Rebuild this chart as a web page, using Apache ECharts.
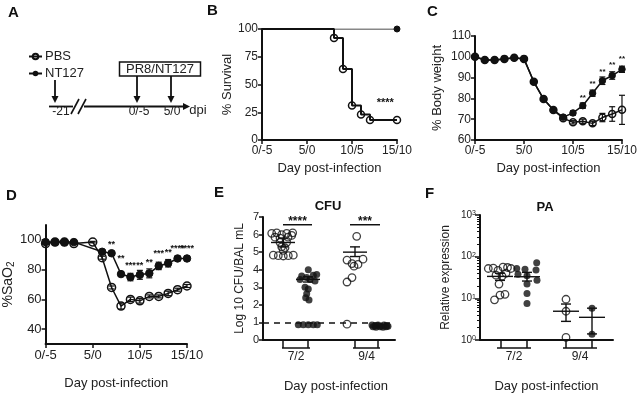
<!DOCTYPE html>
<html><head><meta charset="utf-8">
<script src="https://cdn.jsdelivr.net/npm/echarts@6/dist/echarts.min.js"></script>
<style>html,body{margin:0;padding:0;background:#fff}#c{width:640px;height:394px}</style>
</head><body><div id="c"></div>
<script>
// ---------------- data ----------------
const dayTicks = [0, 5, 10, 15];
const dayLabels = ['0/-5', '5/0', '10/5', '15/10'];

// B: survival
const survDaysPBS = [0, 8, 9, 10, 11, 12, 15];
const survPBS = [100, 92, 64, 31, 23, 18, 18];
const survDaysNT = [0, 15];
const survNT = [100, 100];
const survStarX = [13.7];
const survStarY = [33];
const survStars = ['****'];

// C: body weight
const bwDays = [0, 1, 2, 3, 4, 5, 6, 7, 8, 9, 10, 11, 12, 13, 14, 15];
const bwNT = [100, 98.5, 98.5, 99, 99.5, 99, 88, 79.7, 74.4, 71, 73, 76.5, 82.5, 88.5, 91, 94];
const bwNTErr = [0.3, 0.3, 0.3, 0.3, 0.3, 0.3, 0.5, 0.6, 0.6, 0.8, 1, 1.3, 1.5, 1.8, 1.8, 1.5];
const bwPBS = [100, 98.5, 98.5, 99, 99.5, 99, 88, 79.7, 74.4, 70.5, 68.5, 69, 68, 70.8, 72.5, 74.5];
const bwPBSErr = [0.3, 0.3, 0.3, 0.3, 0.3, 0.3, 0.5, 0.6, 0.6, 0.8, 0.8, 1, 1, 2, 3.5, 7];
const bwStarDays = [11, 12, 13, 14, 15];
const bwStarY = [80.5, 87, 93, 96, 99];
const bwStars = ['**', '**', '**', '**', '**'];

// D: SaO2
const satDaysNT = [0, 1, 2, 3, 6, 7, 8, 9, 10, 11, 12, 13, 14, 15];
const satNT = [98.5, 98.5, 98.5, 98.5, 92, 91, 77, 75, 76.5, 77.5, 82.5, 84.3, 87.5, 87.5];
const satNTErr = [0.5, 0.5, 0.5, 0.5, 1, 1, 1.5, 2.5, 3, 3, 2.5, 2.5, 1.5, 1.5];
const satDaysPBS = [0, 1, 2, 3, 5, 6, 7, 8, 9, 10, 11, 12, 13, 14, 15];
const satPBS = [97.5, 98.5, 98.5, 97.5, 98.5, 88, 68, 55.5, 60, 59, 62, 62, 64, 66.5, 69];
const satPBSErr = [0.5, 0.5, 0.5, 0.5, 0.5, 1, 1, 2, 1.5, 1.5, 1, 1, 1.5, 1, 1];
const satStarDays = [7, 8, 9, 10, 11, 12, 13, 14, 15];
const satStarY = [96.8, 87.8, 82.8, 82.8, 85, 90.7, 91.2, 94, 94];
const satStars = ['**', '**', '***', '**', '**', '***', '**', '****', '****'];

// E: CFU (x = position along axis, y = log10 CFU)
const groupLabels = ['7/2', '9/4'];
const cfuGroupX = [20, 45, 92, 115];
const cfuGroupSpan = [[19, 47], [90, 117]];
const cfu72PBS = [[8.7,6.07],[13.7,6.1],[18.7,6.0],[23.7,6.07],[29.7,6.1],[12,5.85],[17,5.8],[25,5.85],[28.7,5.95],[17,5.56],[23.7,5.56],[18.7,5.3],[22,5.25],[20.3,5.1],[10.3,4.83],[15.3,4.8],[20.3,4.78],[25.3,4.8],[30.3,4.83]];
const cfu72NT = [[45.3,4.0],[38.7,3.64],[43.7,3.55],[50.3,3.68],[53.7,3.73],[37,3.45],[47,3.45],[52,3.36],[42,3.0],[45.3,2.9],[43.7,2.63],[42.7,2.4],[46,2.28],[35.3,0.87],[40.3,0.87],[45.3,0.87],[50.3,0.87],[54.3,0.87]];
const cfu94PBS = [[93.7,5.9],[84,4.55],[89,4.35],[95,4.3],[100,4.6],[91,4.2],[89,3.55],[84,3.3],[84,0.9]];
const cfu94NT = [[109,0.85],[112,0.8],[115,0.85],[118,0.8],[121,0.85],[124,0.8],[110,0.75],[113,0.72],[117,0.75],[120,0.72],[123,0.75],[125,0.78]];
const cfuMean = [[20,5.55,5.3,5.8],[45,3.45,3.3,3.6],[92,5.0,4.75,5.3]];
const cfuLOD = 1;
const cfuSig = [[20,49,6.56],[87,117,6.56]];
const cfuSigText = ['****', '***'];

// F: PA relative expression
const paGroupX = [21, 47, 86, 112];
const paGroupSpan = [[17, 51], [83, 117]];
const pa72PBS = [[8.3,52],[13.3,53],[18,47],[23,56],[27.5,55],[31,52],[16,36],[22,34],[19,22],[20,12],[25,12.5],[14.5,9.2],[26,40]];
const pa72NT = [[36.7,52],[45,50],[56.7,71],[56,48],[47,35],[57,27],[38,38],[47,22],[47,13],[47,7.5]];
const pa94PBS = [[86,9.5],[86,4.9],[86,1.15]];
const pa94NT = [[112,5.8],[112,1.37]];
const paMean = [[20,33.6,27,40],[47,33,26,42],[86,4.9,2.8,7.3],[112,3.5,1.4,5.8]];
const paMajor = [1, 10, 100, 1000];
const paMinor = [2,3,4,5,6,7,8,9,20,30,40,50,60,70,80,90,200,300,400,500,600,700,800,900];

// ---------------- helpers ----------------
const FONT = "'Liberation Sans', Arial, Helvetica, sans-serif";
const INK = '#111';
const TXT = '#222';
const OPEN = 'rgba(255,255,255,0)';

function zip(xs, ys) { return xs.map((x, i) => [x, ys[i]]); }
function errData(xs, ys, es) { return xs.map((x, i) => [x, ys[i] - es[i], ys[i] + es[i]]); }

function dayAxis(gi, gap, fs) {
  return {
    type: 'value', gridIndex: gi, min: 0, max: 15, interval: 5,
    name: 'Day post-infection', nameLocation: 'middle', nameGap: gap,
    nameTextStyle: { fontSize: 13, color: TXT, fontFamily: FONT },
    axisLine: { lineStyle: { color: INK, width: 2 } },
    axisTick: { length: 4, lineStyle: { color: INK, width: 1.5 } },
    axisLabel: { fontSize: fs, color: TXT, fontFamily: FONT, margin: 5,
      formatter: v => { const k = dayTicks.indexOf(v); return k >= 0 ? dayLabels[k] : ''; } },
    splitLine: { show: false }
  };
}
function valAxis(gi, o) {
  return Object.assign({
    type: 'value', gridIndex: gi, nameLocation: 'middle',
    nameTextStyle: { fontSize: 13, color: TXT, fontFamily: FONT },
    axisLine: { show: true, lineStyle: { color: INK, width: 2 } },
    axisTick: { show: true, length: 4, lineStyle: { color: INK, width: 1.5 } },
    axisLabel: { fontSize: 12, color: TXT, fontFamily: FONT, margin: 4 },
    splitLine: { show: false }
  }, o);
}

function errSeries(xi, data, cap) {
  return {
    type: 'custom', xAxisIndex: xi, yAxisIndex: xi, data: data, z: 1, silent: true,
    encode: { x: 0, y: [1, 2] },
    renderItem: (p, api) => {
      const x = api.value(0);
      const a = api.coord([x, api.value(1)]), b = api.coord([x, api.value(2)]);
      const st = { stroke: INK, lineWidth: 1.2 };
      return { type: 'group', children: [
        { type: 'line', shape: { x1: a[0], y1: a[1], x2: b[0], y2: b[1] }, style: st },
        { type: 'line', shape: { x1: a[0] - cap, y1: a[1], x2: a[0] + cap, y2: a[1] }, style: st },
        { type: 'line', shape: { x1: b[0] - cap, y1: b[1], x2: b[0] + cap, y2: b[1] }, style: st }
      ]};
    }
  };
}
function textSeries(xi, yi, xs, ys, texts, fs) {
  return {
    type: 'custom', xAxisIndex: xi, yAxisIndex: yi, data: zip(xs, ys), z: 5, silent: true,
    encode: { x: 0, y: 1 },
    renderItem: (p, api) => {
      const c = api.coord([api.value(0), api.value(1)]);
      return { type: 'text', x: c[0], y: c[1], style: { text: texts[p.dataIndex], fill: INK,
        fontSize: fs, fontFamily: FONT, fontWeight: 'bold', align: 'center', verticalAlign: 'middle' } };
    }
  };
}
function meanSeries(xi, yi, data, half, cap) {
  return {
    type: 'custom', xAxisIndex: xi, yAxisIndex: yi, data: data, z: 4, silent: true,
    encode: { x: 0, y: [1, 2, 3] },
    renderItem: (p, api) => {
      const x = api.value(0);
      const m = api.coord([x, api.value(1)]), a = api.coord([x, api.value(2)]), b = api.coord([x, api.value(3)]);
      const st = { stroke: INK, lineWidth: 1.4 };
      return { type: 'group', children: [
        { type: 'line', shape: { x1: m[0] - half, y1: m[1], x2: m[0] + half, y2: m[1] }, style: st },
        { type: 'line', shape: { x1: a[0], y1: a[1], x2: b[0], y2: b[1] }, style: st },
        { type: 'line', shape: { x1: a[0] - cap, y1: a[1], x2: a[0] + cap, y2: a[1] }, style: st },
        { type: 'line', shape: { x1: b[0] - cap, y1: b[1], x2: b[0] + cap, y2: b[1] }, style: st }
      ]};
    }
  };
}
function sigSeries(xi, yi, data, texts) {
  return {
    type: 'custom', xAxisIndex: xi, yAxisIndex: yi, data: data, z: 5, silent: true,
    encode: { x: [0, 1], y: 2 },
    renderItem: (p, api) => {
      const a = api.coord([api.value(0), api.value(2)]), b = api.coord([api.value(1), api.value(2)]);
      return { type: 'group', children: [
        { type: 'line', shape: { x1: a[0], y1: a[1], x2: b[0], y2: b[1] }, style: { stroke: INK, lineWidth: 1.5 } },
        { type: 'text', x: (a[0] + b[0]) / 2, y: a[1] + 3, style: { text: texts[p.dataIndex], fill: INK,
          fontSize: 12, fontFamily: FONT, fontWeight: 'bold', align: 'center', verticalAlign: 'bottom' } }
      ]};
    }
  };
}
function bracketSeries(xi, yi, spans, ybase) {
  return {
    type: 'custom', xAxisIndex: xi, yAxisIndex: yi, data: spans.map(s => [s[0], s[1], ybase]), z: 5, silent: true,
    encode: { x: [0, 1], y: 2 },
    renderItem: (p, api) => {
      const a = api.coord([api.value(0), api.value(2)]), b = api.coord([api.value(1), api.value(2)]);
      return { type: 'line', shape: { x1: a[0], y1: a[1] + 8, x2: b[0], y2: b[1] + 8 }, style: { stroke: INK, lineWidth: 1.5 } };
    }
  };
}
function groupAxis(gi, max, ticks, spans, gap) {
  const mids = spans.map(s => (s[0] + s[1]) / 2);
  return {
    type: 'value', gridIndex: gi, min: 0, max: max,
    name: 'Day post-infection', nameLocation: 'middle', nameGap: gap,
    nameTextStyle: { fontSize: 13, color: TXT, fontFamily: FONT },
    axisLine: { lineStyle: { color: INK, width: 2 } },
    axisTick: { customValues: ticks, length: 8, lineStyle: { color: INK, width: 1.5 } },
    axisLabel: { customValues: mids, fontSize: 12, color: TXT, fontFamily: FONT, margin: 11,
      formatter: v => { let k = 0, d = 1e9; mids.forEach((m, i) => { if (Math.abs(m - v) < d) { d = Math.abs(m - v); k = i; } }); return groupLabels[k]; } },
    splitLine: { show: false }
  };
}

// ---------------- option ----------------
const letter = (t, l, tp) => ({ text: t, left: l, top: tp, padding: 0,
  textStyle: { fontSize: 15, fontWeight: 'bold', color: INK, fontFamily: FONT } });

const option = {
  animation: false,
  backgroundColor: '#fff',
  textStyle: { fontFamily: FONT },
  title: [
    letter('A', 8, 5), letter('B', 207, 3), letter('C', 427, 4),
    letter('D', 6, 188), letter('E', 214, 185), letter('F', 425, 186),
    { text: 'CFU', left: 328, top: 200, padding: 0, textAlign: 'center', textStyle: { fontSize: 13, fontWeight: 'bold', color: INK, fontFamily: FONT } },
    { text: 'PA', left: 545, top: 201, padding: 0, textAlign: 'center', textStyle: { fontSize: 13, fontWeight: 'bold', color: INK, fontFamily: FONT } }
  ],
  legend: {
    data: ['PBS', 'NT127'], orient: 'vertical', left: 23, top: 45, itemWidth: 13, itemHeight: 7,
    itemGap: 4, selectedMode: false, textStyle: { fontSize: 13, color: TXT, fontFamily: FONT, padding: [0, 0, 0, -2] }
  },
  grid: [
    { left: 262, top: 29, width: 135, height: 111 },
    { left: 475, top: 36, width: 148, height: 104 },
    { left: 43, top: 225, width: 144, height: 119 },
    { left: 263, top: 217, width: 132, height: 128 },
    { left: 480, top: 215, width: 133, height: 131 }
  ],
  xAxis: [
    dayAxis(0, 22, 12),
    dayAxis(1, 22, 12),
    dayAxis(2, 33, 13),
    Object.assign(groupAxis(3, 132, cfuGroupX, cfuGroupSpan, 40), { nameTextStyle: { fontSize: 13, color: TXT, fontFamily: FONT, padding: [0, 0, 0, 14] } }),
    groupAxis(4, 133, paGroupX, paGroupSpan, 40)
  ],
  yAxis: [
    valAxis(0, { min: 0, max: 100, interval: 25, name: '% Survival', nameGap: 23 }),
    valAxis(1, { min: 60, max: 110, interval: 10, name: '% Body weight', nameGap: 31 }),
    valAxis(2, { min: 30, max: 110, name: '%SaO{sub|2}', nameGap: 27,
      nameTextStyle: { fontSize: 14, color: TXT, fontFamily: FONT, rich: { sub: { fontSize: 10, verticalAlign: 'bottom', padding: [6, 0, 0, 0] } } },
      axisTick: { customValues: [40, 60, 80, 100], length: 4, lineStyle: { color: INK, width: 1.5 } },
      axisLabel: { customValues: [40, 60, 80, 100], fontSize: 13, color: TXT, fontFamily: FONT, margin: 4 } }),
    valAxis(3, { min: 0, max: 7, interval: 1, name: 'Log 10 CFU/BAL mL', nameGap: 17,
      nameTextStyle: { fontSize: 12, color: TXT, fontFamily: FONT },
      axisLabel: { fontSize: 11, color: TXT, fontFamily: FONT, margin: 4 } }),
    valAxis(4, { type: 'log', logBase: 10, min: 1, max: 1000, name: 'Relative expression', nameGap: 28,
      nameTextStyle: { fontSize: 12, color: TXT, fontFamily: FONT },
      axisTick: { customValues: paMajor, length: 5, lineStyle: { color: INK, width: 1.5 } },
      axisLabel: { customValues: paMajor, margin: 4, color: TXT, fontFamily: FONT,
        formatter: v => '{b|10}{s|' + Math.round(Math.log10(v)) + '}',
        rich: { b: { fontSize: 10, color: TXT, fontFamily: FONT }, s: { fontSize: 7, color: TXT, fontFamily: FONT, verticalAlign: 'top' } } } }),
    { type: 'log', logBase: 10, gridIndex: 4, min: 1, max: 1000, position: 'left',
      axisLine: { show: false }, axisLabel: { show: false }, splitLine: { show: false },
      axisTick: { show: true, customValues: paMinor, length: 3, lineStyle: { color: INK, width: 1 } } }
  ],
  series: [
    // B
    { type: 'line', name: 'PBS', xAxisIndex: 0, yAxisIndex: 0, step: 'end', showAllSymbol: true,
      data: zip(survDaysPBS, survPBS).map((d, i) => i === 0 ? { value: d, symbol: 'none' } : d),
      symbol: 'circle', symbolSize: 7, itemStyle: { color: OPEN, borderColor: INK, borderWidth: 1.5 },
      lineStyle: { color: INK, width: 2 }, z: 3 },
    { type: 'line', name: 'NT127', xAxisIndex: 0, yAxisIndex: 0, showAllSymbol: true,
      data: zip(survDaysNT, survNT).map((d, i) => i === 0 ? { value: d, symbol: 'none' } : d),
      symbol: 'circle', symbolSize: 6, itemStyle: { color: INK, borderColor: INK },
      lineStyle: { color: INK, width: 1.2 }, z: 3 },
    textSeries(0, 0, survStarX, survStarY, survStars, 11),
    // C
    errSeries(1, errData(bwDays, bwPBS, bwPBSErr), 3),
    errSeries(1, errData(bwDays, bwNT, bwNTErr), 3),
    { type: 'line', name: 'PBS', xAxisIndex: 1, yAxisIndex: 1, data: zip(bwDays, bwPBS), showAllSymbol: true,
      symbol: 'circle', symbolSize: 7, itemStyle: { color: OPEN, borderColor: INK, borderWidth: 1.5 },
      lineStyle: { color: INK, width: 1.5 }, z: 3 },
    { type: 'line', name: 'NT127', xAxisIndex: 1, yAxisIndex: 1, data: zip(bwDays, bwNT), showAllSymbol: true,
      symbol: 'circle', symbolSize: 6.5, itemStyle: { color: INK, borderColor: INK },
      lineStyle: { color: INK, width: 1.5 }, z: 4 },
    textSeries(1, 1, bwStarDays, bwStarY, bwStars, 8),
    // D
    errSeries(2, errData(satDaysPBS, satPBS, satPBSErr), 3),
    errSeries(2, errData(satDaysNT, satNT, satNTErr), 3),
    { type: 'line', name: 'PBS', xAxisIndex: 2, yAxisIndex: 2, data: zip(satDaysPBS, satPBS), showAllSymbol: true,
      symbol: 'circle', symbolSize: 8, itemStyle: { color: OPEN, borderColor: INK, borderWidth: 1.5 },
      lineStyle: { color: INK, width: 1.5 }, z: 3 },
    { type: 'line', name: 'NT127', xAxisIndex: 2, yAxisIndex: 2, data: zip(satDaysNT, satNT), showAllSymbol: true,
      symbol: 'circle', symbolSize: 7.5, itemStyle: { color: INK, borderColor: INK },
      lineStyle: { color: INK, width: 1.5 }, z: 4 },
    textSeries(2, 2, satStarDays, satStarY, satStars, 9),
    // E
    { type: 'scatter', name: 'PBS', xAxisIndex: 3, yAxisIndex: 3, data: cfu72PBS.concat(cfu94PBS),
      symbol: 'circle', symbolSize: 7.5, itemStyle: { color: OPEN, borderColor: INK, borderWidth: 1.3 }, z: 3,
      markLine: { silent: true, symbol: ['none', 'none'], label: { show: false },
        lineStyle: { color: INK, width: 1.5, type: [6, 5] }, data: [{ yAxis: cfuLOD }] } },
    { type: 'scatter', name: 'NT127', xAxisIndex: 3, yAxisIndex: 3, data: cfu72NT.concat(cfu94NT),
      symbol: 'circle', symbolSize: 7, itemStyle: { color: INK }, z: 3 },
    meanSeries(3, 3, cfuMean, 12, 5),
    sigSeries(3, 3, cfuSig, cfuSigText),
    bracketSeries(3, 3, cfuGroupSpan, 0),
    // F
    { type: 'scatter', name: 'PBS', xAxisIndex: 4, yAxisIndex: 4, data: pa72PBS.concat(pa94PBS),
      symbol: 'circle', symbolSize: 7.5, itemStyle: { color: OPEN, borderColor: INK, borderWidth: 1.3 }, z: 3 },
    { type: 'scatter', name: 'NT127', xAxisIndex: 4, yAxisIndex: 4, data: pa72NT.concat(pa94NT),
      symbol: 'circle', symbolSize: 7, itemStyle: { color: INK }, z: 3 },
    meanSeries(4, 4, paMean, 13, 5),
    bracketSeries(4, 4, paGroupSpan, 1)
  ],
  graphic: [
    // schematic (panel A)
    { type: 'line', shape: { x1: 55, y1: 80, x2: 55, y2: 98 }, style: { stroke: INK, lineWidth: 1.8 } },
    { type: 'polygon', shape: { points: [[51.5, 96], [58.5, 96], [55, 103]] }, style: { fill: INK } },
    { type: 'line', shape: { x1: 137, y1: 76, x2: 137, y2: 98 }, style: { stroke: INK, lineWidth: 1.8 } },
    { type: 'polygon', shape: { points: [[133.5, 96], [140.5, 96], [137, 103]] }, style: { fill: INK } },
    { type: 'line', shape: { x1: 171, y1: 76, x2: 171, y2: 98 }, style: { stroke: INK, lineWidth: 1.8 } },
    { type: 'polygon', shape: { points: [[167.5, 96], [174.5, 96], [171, 103]] }, style: { fill: INK } },
    { type: 'line', shape: { x1: 49, y1: 106.5, x2: 73, y2: 106.5 }, style: { stroke: INK, lineWidth: 1.8 } },
    { type: 'line', shape: { x1: 84, y1: 106.5, x2: 184, y2: 106.5 }, style: { stroke: INK, lineWidth: 1.8 } },
    { type: 'polygon', shape: { points: [[183, 103], [183, 110], [190, 106.5]] }, style: { fill: INK } },
    { type: 'line', shape: { x1: 71, y1: 114, x2: 79, y2: 99 }, style: { stroke: INK, lineWidth: 1.6 } },
    { type: 'line', shape: { x1: 78, y1: 114, x2: 86, y2: 99 }, style: { stroke: INK, lineWidth: 1.6 } },
    { type: 'rect', shape: { x: 119.5, y: 62, width: 81, height: 14 }, style: { fill: 'none', stroke: INK, lineWidth: 1.5 } },
    { type: 'text', x: 160, y: 69.5, style: { text: 'PR8/NT127', fontSize: 13, fill: TXT, fontFamily: FONT, align: 'center', verticalAlign: 'middle' } },
    { type: 'text', x: 61, y: 112, style: { text: '-21', fontSize: 12, fill: TXT, fontFamily: FONT, align: 'center', verticalAlign: 'middle' } },
    { type: 'text', x: 139, y: 112, style: { text: '0/-5', fontSize: 12, fill: TXT, fontFamily: FONT, align: 'center', verticalAlign: 'middle' } },
    { type: 'text', x: 172, y: 112, style: { text: '5/0', fontSize: 12, fill: TXT, fontFamily: FONT, align: 'center', verticalAlign: 'middle' } },
    { type: 'text', x: 198, y: 110, style: { text: 'dpi', fontSize: 13, fill: TXT, fontFamily: FONT, align: 'center', verticalAlign: 'middle' } }
  ]
};

const chart = echarts.init(document.getElementById('c'));
chart.setOption(option);
</script>
</body></html>
